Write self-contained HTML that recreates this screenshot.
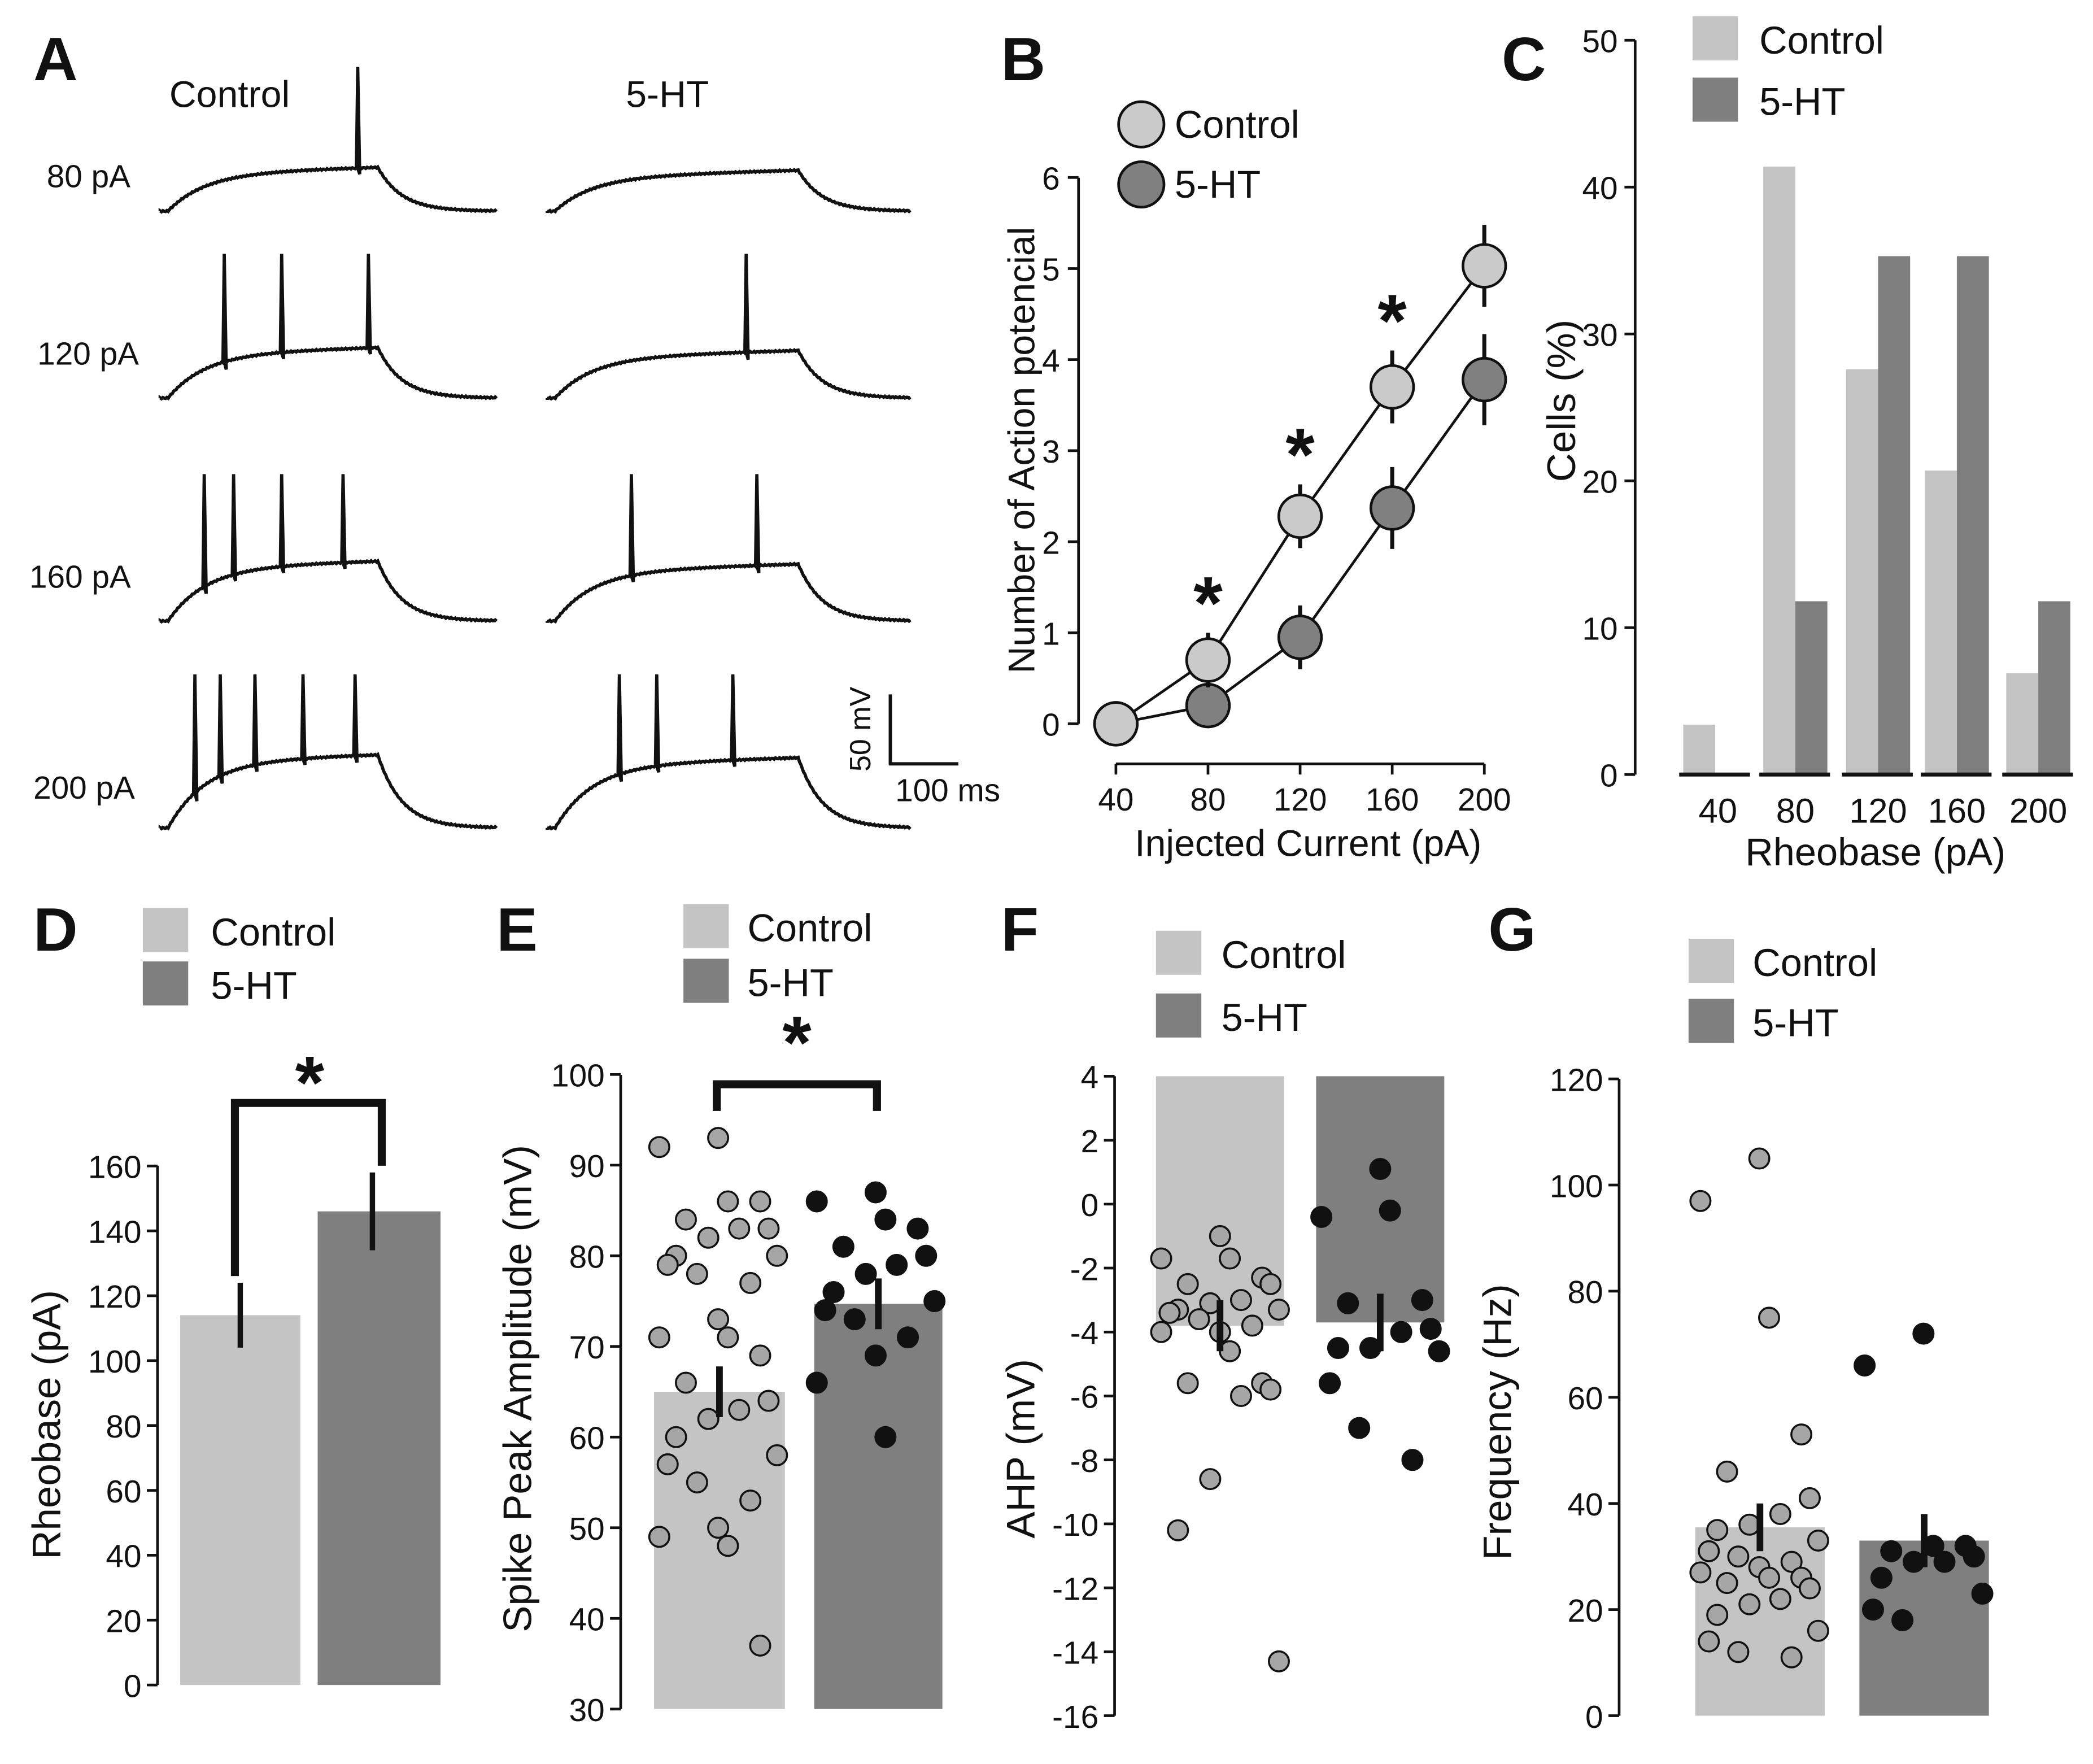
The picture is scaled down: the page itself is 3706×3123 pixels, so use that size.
<!DOCTYPE html>
<html><head><meta charset="utf-8">
<style>
html,body{margin:0;padding:0;background:#fff;}
svg{display:block;font-family:"Liberation Sans",Arial,sans-serif;}
</style></head>
<body>
<svg id="fig" width="3706" height="3123" viewBox="0 0 1568 1321" xmlns="http://www.w3.org/2000/svg">
<rect width="1568" height="1321" fill="#fff"/>
<g id="g"></g>
</svg>
<script>
// ---- Data ----
const aRows = ["80 pA","120 pA","160 pA","200 pA"];
const aCtrlSpikes = [[161],[42,93,170],[24,50,93,148],[15,38,69,112,158]];
const aHtSpikes = [[],[139],[51,147],[42,71,129]];
// Panel B
const bCurrents = [40,80,120,160,200];
const bCtrl = [0,0.7,2.28,3.7,5.03];
const bCtrlErr = [0,0.3,0.35,0.4,0.45];
const bHt = [0,0.2,0.95,2.37,3.78];
const bHtErr = [0,0.15,0.35,0.45,0.5];
const bSig = [false,true,true,true,false];
// Panel C
const cCats = ["40","80","120","160","200"];
const cCtrl = [3.4,41.4,27.6,20.7,6.9];
const cHt = [0,11.8,35.3,35.3,11.8];
const cTicks = [0,10,20,30,40,50];
// Panel D
const dMeans = [114,146];
const dErr = [10,12];
const dTicks = [0,20,40,60,80,100,120,140,160];
// Panel E
const eMeans = [65,74.7];
const eErr = [2.8,2.8];
const eCtrlPts = [93,92,86,86,84,83,83,82,80,80,79,78,77,73,71,71,69,66,64,63,62,60,58,57,55,53,50,49,48,37];
const eHtPts = [87,86,84,83,81,80,79,78,76,75,74,73,71,69,66,60];
const eTicks = [30,40,50,60,70,80,90,100];
// Panel F
const fMeans = [-3.8,-3.7];
const fErr = [0.8,0.9];
const fCtrlPts = [-1,-1.7,-1.7,-2.3,-2.5,-2.5,-3,-3.1,-3.3,-3.3,-3.4,-3.6,-3.8,-4,-4,-4.6,-5.6,-5.6,-5.8,-6,-8.6,-10.2,-14.3];
const fHtPts = [1.1,-0.4,-0.2,-3,-3.1,-3.9,-4,-4.5,-4.5,-4.6,-5.6,-7,-8];
const fTicks = [4,2,0,-2,-4,-6,-8,-10,-12,-14,-16];
// Panel G
const gMeans = [35.5,33];
const gErr = [4.5,5];
const gCtrlPts = [105,97,75,53,46,41,38,36,35,33,31,30,29,28,27,26,26,25,24,22,21,19,16,14,12,11];
const gHtPts = [72,66,32,32,31,30,29,29,26,23,20,18];
const gTicks = [0,20,40,60,80,100,120];

const G = document.getElementById('g');
const NS = "http://www.w3.org/2000/svg";
function mk(tag, attrs, parent){const e=document.createElementNS(NS,tag);for(const k in attrs)e.setAttribute(k,attrs[k]);(parent||G).appendChild(e);return e;}
function txt(s,x,y,size,anchor,name,extra){const e=mk('text',Object.assign({x:x,y:y,'font-size':size,'text-anchor':anchor||'start',fill:'#111'},extra||{}));e.textContent=s;return e;}
function line(x1,y1,x2,y2,w,name){const e=mk('line',{x1,y1,x2,y2,stroke:'#111','stroke-width':w||2});return e;}
const LIGHT='#c4c4c4', DARK='#7f7f7f';

[["A",25,60],["B",750,60],["C",1125,60],["D",25,712],["E",372,712],["F",750,712],["G",1115,712]].forEach(p=>{txt(p[0],p[1],p[2],46,'start','panel-label-'+p[0].toLowerCase(),{'font-weight':'bold'});});

// ---- Panel A ----
txt("Control",172,80,28,'middle','control-title');
txt("5-HT",500,80,28,'middle','5ht-title');
const aBase=[158,298,465,620], aPlat=[28,33,40,50], aPeak=[108,108,110,115];
function trace(x0,xEnd,stepEnd,base,plat,spikes,pk,name){
  const pxPerMs=(stepEnd-x0-12)/180; let d="M"+x0+","+base;
  const sx=spikes.map(t=>Math.round(x0+12+t*pxPerMs));
  for(let x=x0;x<=xEnd;x+=1){
    let y;
    if(x<x0+6)y=base;
    else if(x<=stepEnd){const t=(x-x0-6)/28;y=base-plat*(1-Math.exp(-t))-(x-x0)*0.03;}
    else{const t=(x-stepEnd)/18;y=base-(plat+(stepEnd-x0)*0.03)*Math.exp(-t);}
    y+=Math.sin(x*2.3)*0.5;
    if(sx.indexOf(x)>=0){d+=" L"+x+","+y.toFixed(1)+" L"+(x+1)+","+(base-pk)+" L"+(x+2.5)+","+(y+5).toFixed(1);}
    else d+=" L"+x+","+y.toFixed(1);
  }
  const p=mk('path',{d:d,fill:'none',stroke:'#111','stroke-width':2.4});
  
}
aRows.forEach((r,i)=>{
  txt(r,[35,28,22,25][i],aBase[i]-[18,25,25,22][i],24,'start','current-label-'+i);
  trace(120,372,283,aBase[i],aPlat[i],aCtrlSpikes[i],aPeak[i],'control-trace-'+i);
  trace(410,682,598,aBase[i],aPlat[i]-3,aHtSpikes[i],aPeak[i],'5ht-trace-'+i);
});
line(667,520,667,573,2.5,'scale-bar-vertical');
line(666,572,718,572,2.5,'scale-bar-horizontal');
txt("50 mV",652,546,22,'middle','scale-mv',{transform:'rotate(-90 652 546)'});
txt("100 ms",710,600,24,'middle','scale-ms');

// ---- Panel B ----
const bx=v=>836+(v-40)/40*69, by=v=>542-v*68.2;
line(808,133,808,542,2,'b-y-axis');
for(let v=0;v<=6;v++){line(800,by(v),808,by(v),2,'b-y-tick');txt(String(v),794,by(v)+9,24,'end','b-y-tick-label');}
line(836,572,1112,572,2,'b-x-axis');
bCurrents.forEach(c=>{line(bx(c),572,bx(c),580,2,'b-x-tick');txt(String(c),bx(c),607,24,'middle','b-x-tick-label');});
txt("Number of Action potencial",775,337,28,'middle','b-y-title',{transform:'rotate(-90 775 337)'});
txt("Injected Current (pA)",980,641,28,'middle','b-x-title');
function series(vals,errs,fill,name){
  let d="";vals.forEach((v,i)=>{d+=(i?" L":"M")+bx(bCurrents[i])+","+by(v);});
  const p=mk('path',{d:d,fill:'none',stroke:'#111','stroke-width':2});
  vals.forEach((v,i)=>{
    if(errs[i]>0)line(bx(bCurrents[i]),by(v+errs[i]),bx(bCurrents[i]),by(v-errs[i]),3,name+'-error');
    const c=mk('circle',{cx:bx(bCurrents[i]),cy:by(v),r:16,fill:fill,stroke:'#111','stroke-width':2});
    
  });
}
series(bHt,bHtErr,'#808080','b-5ht');
series(bCtrl,bCtrlErr,'#cacaca','b-control');
bSig.forEach((s,i)=>{if(s)txt("*",bx(bCurrents[i]),by(bCtrl[i]+bCtrlErr[i])-3,56,'middle','b-significance',{'font-weight':'bold'});});
[["Control",93,'#cacaca'],["5-HT",138,'#808080']].forEach((l,i)=>{const c=mk('circle',{cx:855,cy:l[1],r:17,fill:l[2],stroke:'#111','stroke-width':2});txt(l[0],880,l[1]+10,29,'start','b-legend-label');});

// ---- Panel C ----
const cy=v=>580-v*11;
line(1225,30,1225,580,2,'c-y-axis');
cTicks.forEach(v=>{line(1217,cy(v),1225,cy(v),2,'c-y-tick');txt(String(v),1212,cy(v)+9,24,'end','c-y-tick-label');});
const cCenters=[1285,1345,1407,1466,1527];
cCats.forEach((c,i)=>{
  const cx=cCenters[i];
  let r=mk('rect',{x:cx-24,y:cy(cCtrl[i]),width:24,height:cCtrl[i]*11,fill:LIGHT});
  r=mk('rect',{x:cx,y:cy(cHt[i]),width:24,height:cHt[i]*11,fill:DARK});
  line(cx-27,580,cx+26,580,3,'c-baseline');
  txt(c,cx+(i===0?2:0),616,26,'middle','c-x-tick-label');
});
txt("Cells (%)",1180,300,30,'middle','c-y-title',{transform:'rotate(-90 1180 300)'});
txt("Rheobase (pA)",1405,648,29,'middle','c-x-title');
[["Control",12,LIGHT],["5-HT",58,DARK]].forEach(l=>{const r=mk('rect',{x:1268,y:l[1],width:34,height:33,fill:l[2]});txt(l[0],1318,l[1]+28,29,'start','c-legend-label');});

function legend(x,y1,y2,tx,p){[["Control",y1,LIGHT],["5-HT",y2,DARK]].forEach(l=>{const r=mk('rect',{x:x,y:l[1],width:34,height:33,fill:l[2]});txt(l[0],tx,l[1]+28,29,'start',p+'-legend-label');});}
function yaxis(ax,top,bot,ticks,ys,p){line(ax,top,ax,bot,2,p+'-y-axis');ticks.forEach(v=>{line(ax-8,ys(v),ax,ys(v),2,p+'-y-tick');txt(String(v),ax-12,ys(v)+9,24,'end',p+'-y-tick-label');});}
const JIT=[0,-3,3,-1.5,1.5,-4.2,4.2,-2.3,2.3,-0.7,0.7,-3.6,3.6];
function pts(vals,xc,ys,fill,p){
  vals.forEach((v,i)=>{const off=JIT[(i*5)%JIT.length]*10.5;const c=mk('circle',{cx:xc+off,cy:ys(v),r:7.5,fill:fill,stroke:'#111','stroke-width':1.5});});
}

// ---- Panel D ----
const dy=v=>1262-v*2.43;
yaxis(118,873,1262,dTicks,dy,'d');
const dX=[[135,90,LIGHT],[238,92,DARK]];
dMeans.forEach((m,i)=>{const r=mk('rect',{x:dX[i][0],y:dy(m),width:dX[i][1],height:m*2.43,fill:dX[i][2]});
  const xc=dX[i][0]+dX[i][1]/2-(i?5:0);line(xc,dy(m-dErr[i]),xc,dy(m+dErr[i]),4,'d-error');});
const dbr=mk('path',{d:`M176,${dy(dMeans[0]+dErr[0])-5} V826 H286 V${dy(dMeans[1]+dErr[1])-5}`,fill:'none',stroke:'#111','stroke-width':6});
txt("*",232,830,56,'middle','d-significance',{'font-weight':'bold'});
txt("Rheobase (pA)",45,1067,30,'middle','d-y-title',{transform:'rotate(-90 45 1067)'});
legend(107,680,720,158,'d');

// ---- Panel E ----
const ey=v=>1280-(v-30)*6.79;
yaxis(465,805,1280,eTicks,ey,'e');
const eX=[[490,98,LIGHT],[610,96,DARK]];
eMeans.forEach((m,i)=>{const r=mk('rect',{x:eX[i][0],y:ey(m),width:eX[i][1],height:ey(30)-ey(m),fill:eX[i][2]});});
pts(eCtrlPts,538,ey,'#a6a6a6','e-control');
pts(eHtPts,656,ey,'#111','e-5ht');
eMeans.forEach((m,i)=>{const xc=eX[i][0]+eX[i][1]/2;line(xc,ey(m-eErr[i]),xc,ey(m+eErr[i]),5,'e-error');});
const ebr=mk('path',{d:"M537,832 V812 H657 V832",fill:'none',stroke:'#111','stroke-width':6});
txt("*",597,800,56,'middle','e-significance',{'font-weight':'bold'});
txt("Spike Peak Amplitude (mV)",398,1040,30,'middle','e-y-title',{transform:'rotate(-90 398 1040)'});
legend(512,677,718,560,'e');

// ---- Panel F ----
const fy=v=>806+(4-v)*23.95;
yaxis(835,806,1285,fTicks,fy,'f');
const fX=[[866,96,LIGHT],[986,96,DARK]];
fMeans.forEach((m,i)=>{const r=mk('rect',{x:fX[i][0],y:fy(4),width:fX[i][1],height:fy(m)-fy(4),fill:fX[i][2]});});
pts(fCtrlPts,914,fy,'#a6a6a6','f-control');
pts(fHtPts,1034,fy,'#111','f-5ht');
fMeans.forEach((m,i)=>{const xc=fX[i][0]+fX[i][1]/2;line(xc,fy(m-fErr[i]),xc,fy(m+fErr[i]),5,'f-error');});
txt("AHP (mV)",775,1085,30,'middle','f-y-title',{transform:'rotate(-90 775 1085)'});
legend(866,697,744,915,'f');

// ---- Panel G ----
const gy=v=>1285-v*3.975;
yaxis(1213,808,1285,gTicks,gy,'g');
const gX=[[1270,97,LIGHT],[1393,97,DARK]];
gMeans.forEach((m,i)=>{const r=mk('rect',{x:gX[i][0],y:gy(m),width:gX[i][1],height:m*3.975,fill:gX[i][2]});});
pts(gCtrlPts,1318,gy,'#a6a6a6','g-control');
pts(gHtPts,1441,gy,'#111','g-5ht');
gMeans.forEach((m,i)=>{const xc=gX[i][0]+gX[i][1]/2;line(xc,gy(m-gErr[i]),xc,gy(m+gErr[i]),5,'g-error');});
txt("Frequency (Hz)",1132,1065,30,'middle','g-y-title',{transform:'rotate(-90 1132 1065)'});
legend(1265,703,748,1313,'g');
</script>
</body></html>
